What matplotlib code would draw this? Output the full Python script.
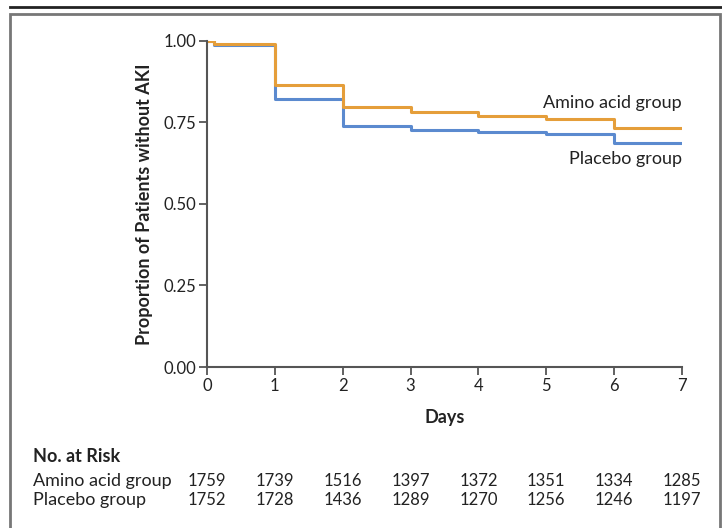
import numpy as np
import matplotlib.pyplot as plt
from matplotlib.lines import Line2D
from matplotlib.patches import Rectangle

plt.rcParams['font.family'] = ['Lato', 'DejaVu Sans']

# Kaplan-Meier step values (change points in days)
amino_days = [0, 0.11, 1, 2, 3, 4, 5, 6, 7]
amino_surv = [1.000, 0.989, 0.863, 0.796, 0.782, 0.769, 0.761, 0.733, 0.733]
placebo_days = [0, 0.11, 1, 2, 3, 4, 5, 6, 7]
placebo_surv = [1.000, 0.987, 0.821, 0.738, 0.727, 0.720, 0.713, 0.686, 0.686]

risk_days = [0, 1, 2, 3, 4, 5, 6, 7]
amino_risk = [1759, 1739, 1516, 1397, 1372, 1351, 1334, 1285]
placebo_risk = [1752, 1728, 1436, 1289, 1270, 1256, 1246, 1197]

orange = '#E59E3A'
blue = '#5B8ACF'
axis_col = '#555555'
txt = '#222222'
fs_word = 13
fs_num = 12

W, H = 722, 528
fig = plt.figure(figsize=(W / 100, H / 100), dpi=100)

def fx(px):
    return px / W

def fy(py):
    return 1 - py / H

# outer decoration: rule on top and frame box
fig.add_artist(Line2D([fx(10), fx(722)], [fy(7), fy(7)], color='#222222', lw=2.0))
fig.add_artist(Rectangle((fx(9.5), fy(560)), fx(720 - 9.5), (560 - 13.5) / H,
                         fill=False, ec='#777777', lw=2.0))

ax = fig.add_axes([fx(207), fy(367), fx(682 - 207), (367 - 40.7) / H])
ax.step(placebo_days, placebo_surv, where='post', color=blue, lw=2.2)
ax.step(amino_days, amino_surv, where='post', color=orange, lw=2.2)

ax.set_xlim(0, 7)
ax.set_ylim(0, 1)
ax.set_xticks(range(8))
ax.set_yticks([0, 0.25, 0.5, 0.75, 1.0])
ax.set_yticklabels(['0.00', '0.25', '0.50', '0.75', '1.00'])
for s in ['top', 'right']:
    ax.spines[s].set_visible(False)
for s in ['left', 'bottom']:
    ax.spines[s].set_color(axis_col)
    ax.spines[s].set_linewidth(1.5)
    ax.spines[s].set_clip_on(False)
ax.tick_params(colors=axis_col, width=1.3, length=6, labelsize=fs_num,
               labelcolor=txt, pad=2)
ax.set_ylabel('Proportion of Patients without AKI', fontsize=fs_word,
              fontweight='bold', color=txt, labelpad=7)
ax.set_xlabel('Days', fontsize=fs_word, fontweight='bold', color=txt, labelpad=11)

ax.text(7, 0.785, 'Amino acid group', ha='right', va='bottom', fontsize=fs_word, color=txt)
ax.text(7, 0.662, 'Placebo group', ha='right', va='top', fontsize=fs_word, color=txt)

# number at risk table
fig.text(fx(33), fy(456), 'No. at Risk', fontsize=fs_word, fontweight='bold',
         color=txt, va='center', ha='left')
fig.text(fx(33), fy(481), 'Amino acid group', fontsize=fs_word, color=txt,
         va='center', ha='left')
fig.text(fx(33), fy(500), 'Placebo group', fontsize=fs_word, color=txt,
         va='center', ha='left')
for d, a, p in zip(risk_days, amino_risk, placebo_risk):
    xf = fig.transFigure.inverted().transform(ax.transData.transform((d, 0)))[0]
    fig.text(xf, fy(481), str(a), fontsize=fs_num, color=txt, ha='center', va='center')
    fig.text(xf, fy(500), str(p), fontsize=fs_num, color=txt, ha='center', va='center')

fig.savefig('out.png', dpi=100)
